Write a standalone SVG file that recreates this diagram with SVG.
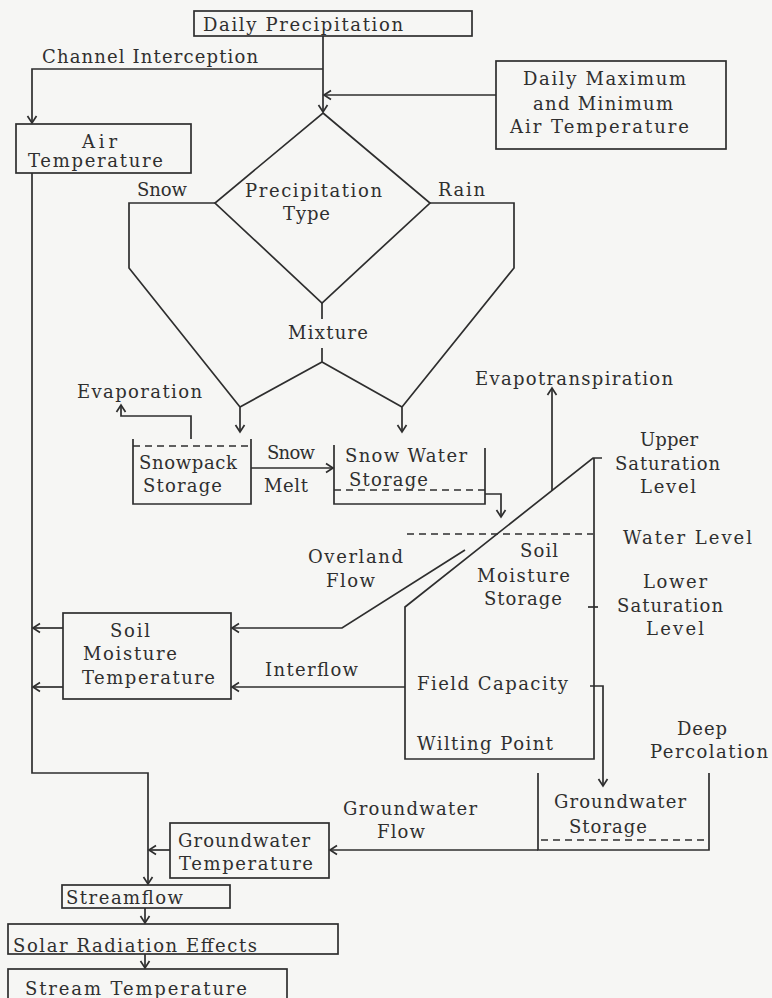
<svg xmlns="http://www.w3.org/2000/svg" width="772" height="998" viewBox="0 0 772 998">
<defs>
<marker id="ah" viewBox="-9 -6 11 12" refX="0" refY="0" markerWidth="11" markerHeight="12" markerUnits="userSpaceOnUse" orient="auto">
<path d="M-7,-4.5 L0,0 L-7,4.5" fill="none" stroke="#2e2e2e" stroke-width="1.7"/>
</marker>
<style>
.t{font-family:"DejaVu Serif","Liberation Serif",serif;font-size:18px;fill:#2f2f2f}
.b{fill:none;stroke:#2e2e2e;stroke-width:1.7}
.d{fill:none;stroke:#2e2e2e;stroke-width:1.6;stroke-dasharray:7 5}
.c{fill:none;stroke:#2e2e2e;stroke-width:1.7}
.a{marker-end:url(#ah)}
</style>
</defs>
<rect width="772" height="998" fill="#f6f6f4"/>

<g id="connectors">
<path class="c a" d="M323,36 V112"/>
<path class="c a" d="M323,69 H32 V123"/>
<path class="c a" d="M496,95 H324"/>
<path class="c a" d="M32,173 V773 H148 V884"/>
<path class="c a" d="M215,203 H129 V268 L240,407 V432"/>
<path class="c a" d="M430,203 H514 V268 L402,407 V432"/>
<path class="c" d="M322,303 V319 M322,348 V362 M240,407 L322,362 L402,407"/>
<path class="c a" d="M191,439 V416 H121 V405"/>
<path class="c a" d="M251,468 H333"/>
<path class="c a" d="M485,494 H501 V517"/>
<path class="c a" d="M552,491 V388"/>
<path class="c a" d="M465,550 L342,628 H232"/>
<path class="c a" d="M405,687 H232"/>
<path class="c a" d="M63,628 H33"/>
<path class="c a" d="M63,687 H33"/>
<path class="c a" d="M590,686 H603 V786"/>
<path class="c a" d="M538,850 H330"/>
<path class="c a" d="M170,850 H149"/>
<path class="c a" d="M145,908 V923"/>
<path class="c a" d="M145,954 V968"/>
<text class="t" x="42" y="63" textLength="216">Channel Interception</text>
<text class="t" x="137" y="196" textLength="50">Snow</text>
<text class="t" x="438" y="196" textLength="47">Rain</text>
<text class="t" x="288" y="339" textLength="80">Mixture</text>
<text class="t" x="77" y="398" textLength="125">Evaporation</text>
<text class="t" x="267" y="459" textLength="48">Snow</text>
<text class="t" x="264" y="492" textLength="44">Melt</text>
<text class="t" x="475" y="385" textLength="198">Evapotranspiration</text>
<text class="t" x="308" y="563" textLength="95">Overland</text>
<text class="t" x="326" y="587" textLength="49">Flow</text>
<text class="t" x="265" y="676" textLength="93">Interflow</text>
<text class="t" x="677" y="735" textLength="50">Deep</text>
<text class="t" x="650" y="758" textLength="118">Percolation</text>
<text class="t" x="343" y="815" textLength="134">Groundwater</text>
<text class="t" x="377" y="838" textLength="48">Flow</text>
</g>

<g id="daily-precipitation">
<rect class="b" x="194" y="11" width="278" height="25"/>
<text class="t" x="203" y="31" textLength="200">Daily Precipitation</text>
</g>

<g id="daily-max-min">
<rect class="b" x="496" y="61" width="230" height="88"/>
<text class="t" x="523" y="85" textLength="163">Daily Maximum</text>
<text class="t" x="533" y="110" textLength="140">and Minimum</text>
<text class="t" x="510" y="133" textLength="179">Air Temperature</text>
</g>

<g id="air-temperature">
<rect class="b" x="16" y="124" width="175" height="49"/>
<text class="t" x="82" y="148" textLength="35">Air</text>
<text class="t" x="28" y="167" textLength="135">Temperature</text>
</g>

<g id="precipitation-type">
<polygon class="b" points="323,113 430,203 322,303 215,203"/>
<text class="t" x="245" y="197" textLength="137">Precipitation</text>
<text class="t" x="283" y="220" textLength="47">Type</text>
</g>

<g id="snowpack-storage">
<path class="b" d="M133,439 V504 H251 V439"/>
<path class="d" d="M133,446 H251"/>
<text class="t" x="139" y="469" textLength="98">Snowpack</text>
<text class="t" x="143" y="492" textLength="79">Storage</text>
</g>

<g id="snow-water-storage">
<path class="b" d="M334,445 V504 H485 V448"/>
<path class="d" d="M334,490 H485"/>
<text class="t" x="345" y="462" textLength="122">Snow Water</text>
<text class="t" x="349" y="486" textLength="79">Storage</text>
</g>

<g id="soil-moisture-storage">
<path class="b" d="M602,458 H593 L405,607 V759 H594 V458"/>
<path class="d" d="M407,534 H593"/>
<path class="b" d="M588,607 H598"/>
<text class="t" x="520" y="557" textLength="38">Soil</text>
<text class="t" x="477" y="582" textLength="93">Moisture</text>
<text class="t" x="484" y="605" textLength="78">Storage</text>
<text class="t" x="417" y="690" textLength="151">Field Capacity</text>
<text class="t" x="417" y="750" textLength="136">Wilting Point</text>
<text class="t" x="640" y="446" textLength="58">Upper</text>
<text class="t" x="615" y="470" textLength="105">Saturation</text>
<text class="t" x="640" y="493" textLength="56">Level</text>
<text class="t" x="623" y="544" textLength="129">Water Level</text>
<text class="t" x="643" y="588" textLength="64">Lower</text>
<text class="t" x="617" y="612" textLength="106">Saturation</text>
<text class="t" x="646" y="635" textLength="58">Level</text>
</g>

<g id="soil-moisture-temperature">
<rect class="b" x="63" y="613" width="168" height="86"/>
<text class="t" x="110" y="637" textLength="40">Soil</text>
<text class="t" x="83" y="660" textLength="94">Moisture</text>
<text class="t" x="82" y="684" textLength="133">Temperature</text>
</g>

<g id="groundwater-storage">
<path class="b" d="M538,773 V850 H709 V773"/>
<path class="d" d="M541,840 H709"/>
<text class="t" x="554" y="808" textLength="132">Groundwater</text>
<text class="t" x="569" y="833" textLength="78">Storage</text>
</g>

<g id="groundwater-temperature">
<rect class="b" x="170" y="823" width="159" height="55"/>
<text class="t" x="178" y="847" textLength="132">Groundwater</text>
<text class="t" x="179" y="870" textLength="134">Temperature</text>
</g>

<g id="streamflow">
<rect class="b" x="62" y="885" width="168" height="23"/>
<text class="t" x="66" y="904" textLength="117">Streamflow</text>
</g>

<g id="solar-radiation-effects">
<rect class="b" x="8" y="924" width="330" height="30"/>
<text class="t" x="13" y="952" textLength="244">Solar Radiation Effects</text>
</g>

<g id="stream-temperature">
<rect class="b" x="8" y="969" width="279" height="40"/>
<text class="t" x="25" y="995" textLength="222">Stream Temperature</text>
</g>
</svg>
